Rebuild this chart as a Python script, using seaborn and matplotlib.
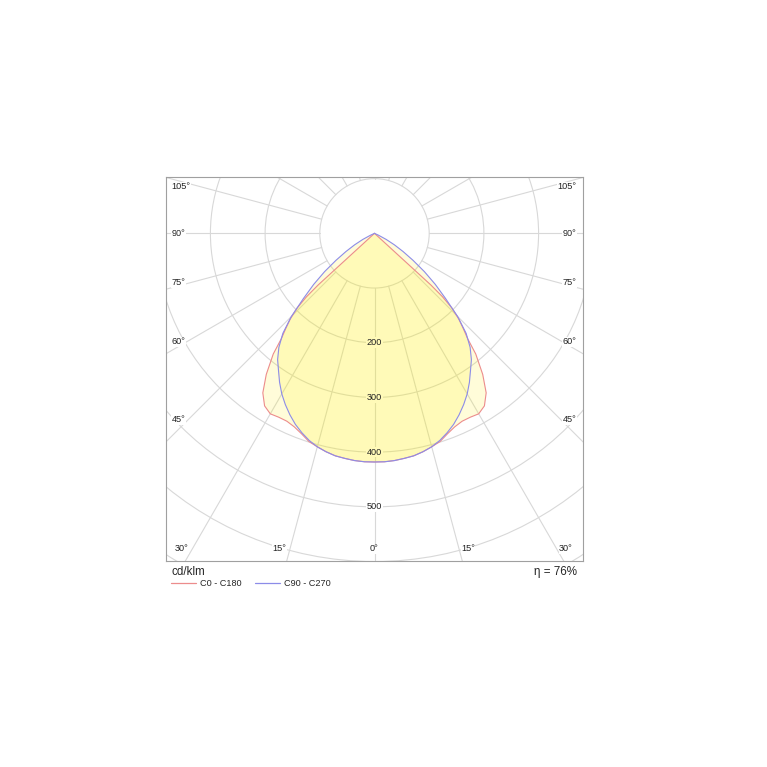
import numpy as np
import pandas as pd
import matplotlib.pyplot as plt
import seaborn as sns
from matplotlib.lines import Line2D

# Luminous intensity (cd/klm) against gamma angle
gamma_c0 = [0, 2.5, 5, 7.5, 10, 12.5, 15, 17.5, 20, 22.5, 25, 27.5, 30, 32.5,
            35, 37.5, 40, 41.5, 43, 44.5, 46, 47, 47.5, 48]
c0_c180 = [418, 418, 417, 415, 413, 409, 404, 399, 390, 383, 379, 379, 381, 374,
           356, 325, 288, 257, 238, 220, 197, 170, 140, 0]
gamma_c90 = [0, 2.5, 5, 7.5, 10, 12.5, 15, 17.5, 20, 22.5, 25, 27.5, 30, 32.5,
             35, 37.5, 40, 42.5, 45, 47.5, 50, 52.5, 55, 57.5, 60, 62.5, 65, 67.5]
c90_c270 = [418, 418, 417, 415, 413, 409, 404, 397, 388, 378, 366, 353, 339, 323,
            306, 291, 272, 248, 215, 176, 145, 115, 86, 62, 42, 24, 8, 0]
curve_names = ["C0 - C180", "C90 - C270"]
ring_values = [100, 200, 300, 400, 500, 600, 700, 800]
ring_labels = [200, 300, 400, 500]
efficiency = 76

# angle labels: (text, x, y, ha) in cd/klm units
angle_labels = [
    ("105°", -371, 85, "left"), ("90°", -371, 0, "left"), ("75°", -371, -90, "left"),
    ("60°", -371, -198, "left"), ("45°", -371, -341, "left"),
    ("105°", 369, 85, "right"), ("90°", 369, 0, "right"), ("75°", 369, -90, "right"),
    ("60°", 369, -198, "right"), ("45°", 369, -341, "right"),
    ("30°", -353, -577, "center"), ("15°", -174, -577, "center"), ("0°", 0, -577, "center"),
    ("15°", 171, -577, "center"), ("30°", 350, -577, "center"),
]


def polar_curve(name, angles, values):
    # right half is C0/C90, left half the mirrored C180/C270
    g = np.radians(np.array(angles))
    v = np.array(values, dtype=float)
    ang = np.concatenate([-g[::-1], g[1:]])
    rr = np.concatenate([v[::-1], v[1:]])
    return pd.DataFrame({"x": rr * np.sin(ang), "y": -rr * np.cos(ang), "curve": name})


df = pd.concat([polar_curve(curve_names[0], gamma_c0, c0_c180),
                polar_curve(curve_names[1], gamma_c90, c90_c270)], ignore_index=True)

sns.set_style("white")
plt.rcParams['font.family'] = ['Liberation Sans', 'DejaVu Sans']

fig = plt.figure(figsize=(7.67, 7.67), dpi=100)
ax = fig.add_axes([166 / 767, 1 - 561 / 767, 417 / 767, 384 / 767])

grid_c = "#d8d8d8"
for r in ring_values:
    ax.add_patch(plt.Circle((0, 0), r, fill=False, ec=grid_c, lw=0.8, zorder=1))
for a in range(0, 360, 15):
    t = np.radians(a)
    ax.plot([100 * np.sin(t), 900 * np.sin(t)], [-100 * np.cos(t), -900 * np.cos(t)],
            color=grid_c, lw=0.8, zorder=1)

# value labels: white patch under the fill hides the rings, text redrawn on top
for v in ring_labels:
    ax.text(0, -v, str(v), ha="center", va="center", fontsize=6.6, color="white", zorder=2,
            bbox=dict(fc="white", ec="none", pad=0.6))
    ax.text(0, -v, str(v), ha="center", va="center", fontsize=6.6, color="#222222", zorder=5)

colors = {curve_names[0]: "#ec8c8c", curve_names[1]: "#8c8ce8"}
for name in curve_names:
    sub = df[df["curve"] == name]
    ax.fill(sub["x"], sub["y"], color="#fff000", alpha=0.15, lw=0, zorder=3)
    sns.lineplot(data=sub, x="x", y="y", sort=False, estimator=None, color=colors[name],
                 lw=0.8, ax=ax, zorder=4)

for txt, x, y, ha in angle_labels:
    ax.text(x, y, txt, ha=ha, va="center", fontsize=6.6, color="#222222", zorder=5,
            bbox=dict(fc="white", ec="none", pad=0.3))

ax.set_xlim(-381.2, 381.2)
ax.set_ylim(-599, 103)
ax.set_xticks([])
ax.set_yticks([])
ax.set_xlabel("")
ax.set_ylabel("")
for s in ax.spines.values():
    s.set_color("#a0a0a0")
    s.set_linewidth(0.8)

handles = [Line2D([], [], color=colors[n], lw=0.9) for n in curve_names]
ax.legend(handles, curve_names, loc="upper left", bbox_to_anchor=(0.012, -0.047), ncol=2,
          frameon=False, fontsize=6.6, handlelength=2.7, handletextpad=0.45,
          columnspacing=1.5, borderpad=0, borderaxespad=0)

fig.text(172 / 767, 1 - 572 / 767, "cd/klm", fontsize=8.4, va="center", ha="left")
fig.text(577 / 767, 1 - 572 / 767, f"η = {efficiency}%", fontsize=8.4, va="center", ha="right")

fig.savefig("out.png", dpi=100)
